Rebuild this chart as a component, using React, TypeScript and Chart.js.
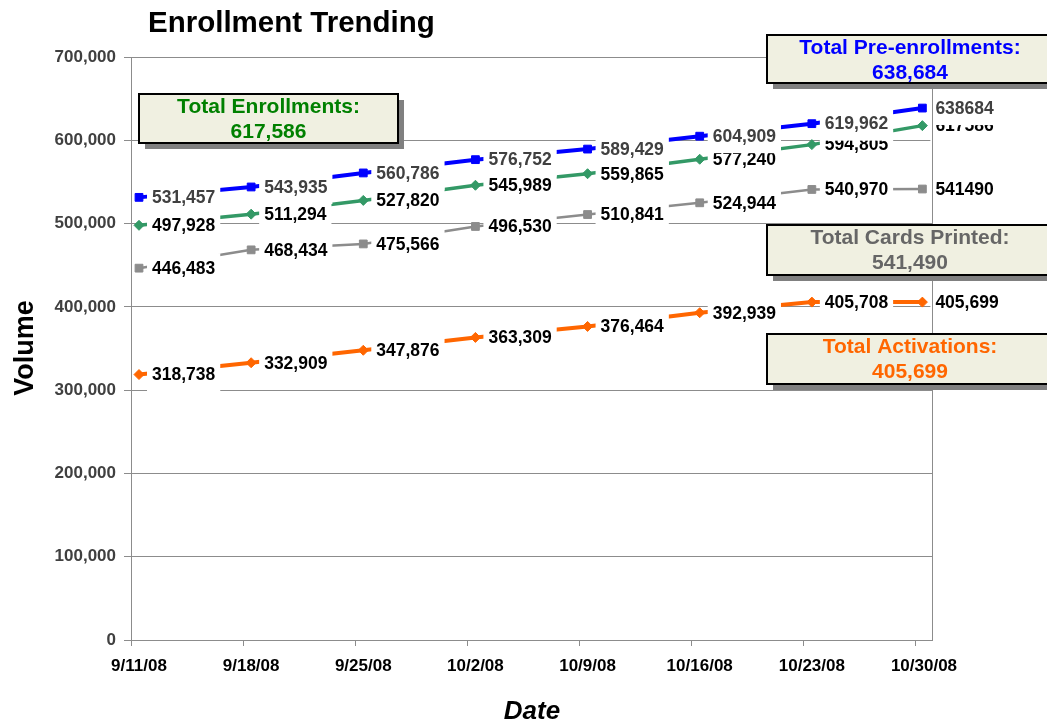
import React, { useEffect, useRef } from 'react';
import { Chart, registerables } from 'chart.js';

Chart.register(...registerables);

const FONT = '"Liberation Sans", Arial, Helvetica, sans-serif';

// Axis ticks (days since 9/11/08) and their labels
const tickDays = [0, 7, 14, 21, 28, 35, 42, 49];
const tickLabels = ['9/11/08', '9/18/08', '9/25/08', '10/2/08', '10/9/08', '10/16/08', '10/23/08', '10/30/08'];
// Dates of each observation (days since 9/11/08)
const pointDays = [0.5, 7.5, 14.5, 21.5, 28.5, 35.5, 42.5, 49.4];

// Series values
const preEnrollments = [531457, 543935, 560786, 576752, 589429, 604909, 619962, 638684];
const enrollments = [497928, 511294, 527820, 545989, 559865, 577240, 594805, 617586];
const cardsPrinted = [446483, 468434, 475566, 496530, 510841, 524944, 540970, 541490];
const activations = [318738, 332909, 347876, 363309, 376464, 392939, 405708, 405699];

const seriesNames = ['Total Pre-enrollments', 'Total Enrollments', 'Total Cards Printed', 'Total Activations'];
const seriesValues = [preEnrollments, enrollments, cardsPrinted, activations];
const seriesColors = ['#0000FF', '#339966', '#8C8C8C', '#FF6600'];
const boxTextColors = ['#0000FF', '#008000', '#666666', '#FF6600'];
const labelColors = ['#404040', '#000000', '#000000', '#000000'];
const pointStyles = ['rect', 'rectRot', 'rect', 'rectRot'];
const pointRadii = [5.5, 5, 5.5, 5];
const lineWidths = [4, 3.5, 2.5, 4];
const plainLastLabel = [true, true, true, false];

const yMax = 700000;
const yStep = 100000;

const fmt = (v: number) => v.toLocaleString('en-US');

function drawBox(ctx: CanvasRenderingContext2D, x: number, y: number, w: number, h: number, lines: string[], color: string) {
  ctx.save();
  ctx.fillStyle = '#808080';
  ctx.fillRect(x + 6, y + 6, w, h);
  ctx.fillStyle = '#F0F0E1';
  ctx.fillRect(x, y, w, h);
  ctx.strokeStyle = '#000000';
  ctx.lineWidth = 2;
  ctx.strokeRect(x, y, w, h);
  ctx.fillStyle = color;
  ctx.font = `bold 21px ${FONT}`;
  ctx.textAlign = 'center';
  ctx.textBaseline = 'middle';
  ctx.fillText(lines[0], x + w / 2, y + 13.5);
  ctx.fillText(lines[1], x + w / 2, y + 38.5);
  ctx.restore();
}

const overlayPlugin = {
  id: 'overlay',
  afterDatasetsDraw(chart: any) {
    const ctx: CanvasRenderingContext2D = chart.ctx;
    ctx.save();
    ctx.font = `bold 17.5px ${FONT}`;
    ctx.textBaseline = 'middle';
    ctx.textAlign = 'left';
    const order = [3, 2, 1, 0];
    order.forEach((di) => {
      const meta = chart.getDatasetMeta(di);
      meta.data.forEach((pt: any, i: number) => {
        const v = seriesValues[di][i];
        const txt = i === seriesValues[di].length - 1 && plainLastLabel[di] ? String(v) : fmt(v);
        const w = ctx.measureText(txt).width;
        const x0 = pt.x + 8;
        ctx.fillStyle = '#FFFFFF';
        ctx.fillRect(x0, pt.y - 15, pt.x + 13 + w + 5 - x0, 32);
        ctx.fillStyle = labelColors[di];
        ctx.fillText(txt, pt.x + 13, pt.y + 1);
      });
    });
    const a = chart.chartArea;
    ctx.strokeStyle = '#8C8C8C';
    ctx.lineWidth = 1;
    ctx.beginPath();
    ctx.moveTo(Math.round(a.right) + 0.5, a.top);
    ctx.lineTo(Math.round(a.right) + 0.5, a.bottom);
    ctx.stroke();
    ctx.restore();
  },
  afterDraw(chart: any) {
    const ctx: CanvasRenderingContext2D = chart.ctx;
    ctx.save();
    // Title
    ctx.fillStyle = '#000000';
    ctx.font = `bold 29.5px ${FONT}`;
    ctx.textAlign = 'left';
    ctx.textBaseline = 'alphabetic';
    ctx.fillText('Enrollment Trending', 148, 32);
    // Y axis title
    ctx.save();
    ctx.translate(33, 348);
    ctx.rotate(-Math.PI / 2);
    ctx.font = `bold 27px ${FONT}`;
    ctx.textAlign = 'center';
    ctx.fillText('Volume', 0, 0);
    ctx.restore();
    // X axis title
    ctx.font = `italic bold 26px ${FONT}`;
    ctx.textAlign = 'center';
    ctx.fillText('Date', 532, 719);
    ctx.restore();

    const last = (arr: number[]) => fmt(arr[arr.length - 1]);
    drawBox(ctx, 139, 94, 259, 49, [seriesNames[1] + ':', last(enrollments)], boxTextColors[1]);
    drawBox(ctx, 767, 35, 286, 48, [seriesNames[0] + ':', last(preEnrollments)], boxTextColors[0]);
    drawBox(ctx, 767, 225, 286, 50, [seriesNames[2] + ':', last(cardsPrinted)], boxTextColors[2]);
    drawBox(ctx, 767, 334, 286, 50, [seriesNames[3] + ':', last(activations)], boxTextColors[3]);
  },
};

export default function App() {
  const ref = useRef<HTMLCanvasElement | null>(null);

  useEffect(() => {
    if (!ref.current) return;
    Chart.defaults.font.family = FONT;
    const datasets = seriesValues.map((vals, di) => ({
      label: seriesNames[di],
      data: vals.map((v, i) => ({ x: pointDays[i], y: v })),
      borderColor: seriesColors[di],
      backgroundColor: seriesColors[di],
      borderWidth: lineWidths[di],
      pointStyle: pointStyles[di] as any,
      pointRadius: pointRadii[di],
      pointBorderWidth: 1,
      pointBorderColor: seriesColors[di],
      pointBackgroundColor: seriesColors[di],
      tension: 0,
      fill: false,
      clip: false as any,
    }));
    const chart = new Chart(ref.current, {
      type: 'line',
      data: { datasets },
      options: {
        animation: false,
        responsive: false,
        devicePixelRatio: 1,
        layout: { padding: { left: 0, top: 57, right: 115, bottom: 0 } },
        plugins: {
          legend: { display: false },
          title: { display: false },
          tooltip: { enabled: false },
        },
        events: [],
        scales: {
          x: {
            type: 'linear',
            min: 0,
            max: 50,
            afterBuildTicks: (scale: any) => {
              scale.ticks = tickDays.map((v) => ({ value: v }));
            },
            afterFit: (scale: any) => {
              scale.height = 79;
            },
            ticks: {
              autoSkip: false,
              maxRotation: 0,
              minRotation: 0,
              padding: 10,
              labelOffset: 8,
              color: '#000000',
              font: { family: FONT, size: 17, weight: 'bold' },
              callback: (v: any) => {
                const idx = tickDays.indexOf(Number(v));
                return idx >= 0 ? tickLabels[idx] : '';
              },
            },
            grid: {
              drawOnChartArea: false,
              drawTicks: true,
              tickLength: 6,
              color: '#8C8C8C',
            },
            border: { display: true, color: '#8C8C8C', width: 1 },
          },
          y: {
            min: 0,
            max: yMax,
            afterFit: (scale: any) => {
              scale.width = 131;
            },
            ticks: {
              stepSize: yStep,
              padding: 8,
              color: '#404040',
              font: { family: FONT, size: 17, weight: 'bold' },
              callback: (v: any) => fmt(Number(v)),
            },
            grid: {
              color: '#8C8C8C',
              drawTicks: true,
              tickLength: 7,
            },
            border: { display: true, color: '#8C8C8C', width: 1 },
          },
        },
      } as any,
      plugins: [overlayPlugin],
    });
    return () => chart.destroy();
  }, []);

  return (
    <div style={{ position: 'fixed', left: 0, top: 0, width: 1047, height: 719, background: '#ffffff' }}>
      <canvas ref={ref} width={1047} height={719} style={{ display: 'block', width: 1047, height: 719 }} />
    </div>
  );
}
